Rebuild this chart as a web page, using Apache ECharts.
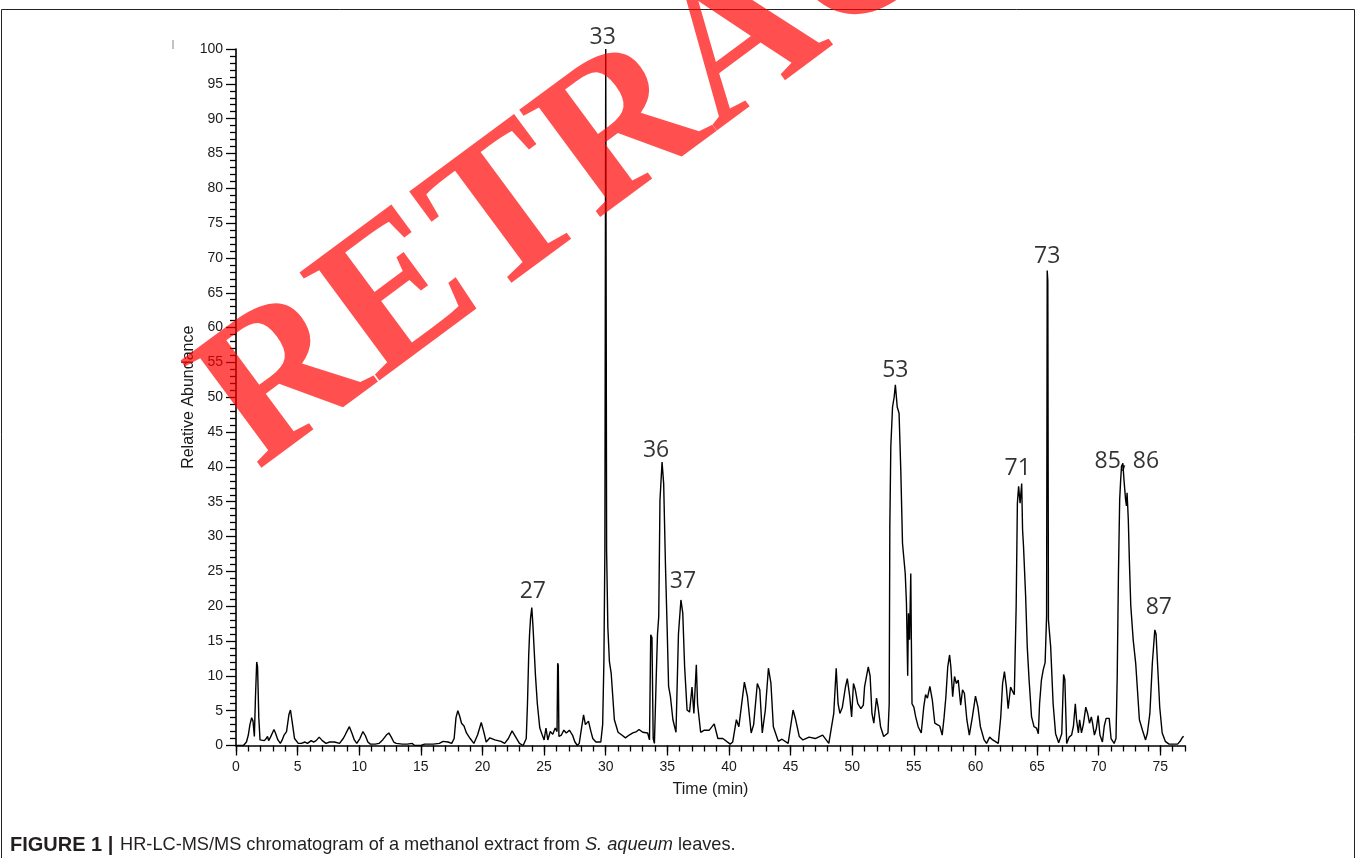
<!DOCTYPE html>
<html>
<head>
<meta charset="utf-8">
<title>HR-LC-MS/MS chromatogram</title>
<script src="https://cdn.jsdelivr.net/npm/echarts@6/dist/echarts.min.js"></script>
<style>
  html, body { margin: 0; padding: 0; background: #fff; }
  #chart { width: 1357px; height: 858px; }
</style>
</head>
<body>
<div id="chart"></div>
<script>
// Retention time (min) of each trace sample
const times = [
  0.0, 0.6, 0.85, 1.0, 1.13, 1.27, 1.38, 1.49, 1.58, 1.68, 1.75, 1.85, 1.95, 2.1, 2.3, 2.45, 2.56, 2.65, 2.8, 3.08,
  3.2, 3.4, 3.6, 3.75, 3.9, 4.1, 4.3, 4.42, 4.55, 4.75, 5.05, 5.3, 5.6, 5.8, 6.1, 6.3, 6.5, 6.75, 7.0, 7.3,
  7.6, 8.0, 8.4, 8.7, 8.85, 9.05, 9.2, 9.4, 9.6, 9.8, 10.05, 10.3, 10.5, 10.7, 10.9, 11.3, 11.6, 11.9, 12.2, 12.4,
  12.6, 12.8, 13.0, 13.5, 13.9, 14.3, 14.5, 15.0, 15.3, 16.0, 16.5, 16.8, 17.2, 17.5, 17.7, 17.85, 18.0, 18.15, 18.3, 18.5,
  18.7, 19.0, 19.3, 19.6, 19.9, 20.1, 20.3, 20.6, 21.0, 21.5, 21.8, 22.1, 22.4, 22.7, 23.0, 23.3, 23.55, 23.65, 23.75, 23.82,
  23.9, 24.0, 24.1, 24.3, 24.45, 24.65, 24.85, 25.0, 25.15, 25.3, 25.5, 25.7, 25.9, 26.05, 26.1, 26.15, 26.2, 26.4, 26.6, 26.8,
  27.05, 27.3, 27.5, 27.7, 27.85, 27.95, 28.2, 28.35, 28.6, 28.8, 28.95, 29.2, 29.6, 29.75, 29.85, 29.93, 30.0, 30.07, 30.17, 30.3,
  30.44, 30.7, 31.0, 31.3, 31.6, 31.9, 32.2, 32.5, 32.7, 33.0, 33.4, 33.55, 33.65, 33.75, 33.85, 33.95, 34.1, 34.2, 34.3, 34.4,
  34.57, 34.7, 34.85, 34.98, 35.1, 35.25, 35.45, 35.7, 35.9, 36.1, 36.25, 36.4, 36.6, 36.8, 37.0, 37.15, 37.35, 37.45, 37.7, 38.0,
  38.4, 38.8, 39.1, 39.5, 40.1, 40.3, 40.6, 40.8, 41.25, 41.5, 41.8, 42.0, 42.3, 42.5, 42.7, 42.95, 43.2, 43.4, 43.6, 44.0,
  44.3, 44.8, 45.2, 45.4, 45.7, 46.0, 46.5, 47.0, 47.6, 48.1, 48.5, 48.7, 48.85, 49.0, 49.2, 49.45, 49.6, 49.8, 49.95, 50.1,
  50.25, 50.45, 50.7, 50.9, 51.0, 51.3, 51.45, 51.6, 51.75, 51.97, 52.1, 52.3, 52.55, 52.9, 53.0, 53.05, 53.13, 53.27, 53.4, 53.5,
  53.65, 53.8, 53.94, 54.08, 54.3, 54.4, 54.5, 54.56, 54.65, 54.75, 54.8, 54.85, 55.0, 55.15, 55.35, 55.6, 55.8, 55.95, 56.1, 56.3,
  56.5, 56.7, 56.9, 57.1, 57.3, 57.45, 57.6, 57.75, 57.9, 58.0, 58.15, 58.3, 58.45, 58.6, 58.8, 58.95, 59.1, 59.3, 59.5, 59.75,
  60.0, 60.2, 60.4, 60.7, 60.9, 61.15, 61.4, 61.85, 62.05, 62.2, 62.35, 62.5, 62.65, 62.85, 63.0, 63.15, 63.3, 63.4, 63.5, 63.62,
  63.75, 63.82, 63.9, 64.07, 64.2, 64.35, 64.55, 64.75, 64.95, 65.1, 65.2, 65.35, 65.5, 65.65, 65.77, 65.82, 65.87, 65.92, 66.1, 66.3,
  66.5, 66.75, 67.0, 67.15, 67.25, 67.4, 67.6, 67.8, 67.95, 68.1, 68.2, 68.35, 68.45, 68.6, 68.75, 68.95, 69.1, 69.25, 69.4, 69.5,
  69.65, 69.8, 69.95, 70.1, 70.3, 70.45, 70.6, 70.85, 71.0, 71.25, 71.4, 71.5, 71.6, 71.7, 71.78, 71.85, 71.96, 72.05, 72.18, 72.25,
  72.3, 72.4, 72.5, 72.6, 72.8, 73.0, 73.3, 73.55, 73.8, 73.95, 74.15, 74.35, 74.5, 74.55, 74.65, 74.77, 74.95, 75.15, 75.4, 75.7,
  76.4, 76.6, 76.8, 76.9
];

// Relative abundance (%) at each retention time
const abundance = [
  0, 0, 0.5, 1.5, 3, 4.0, 3.5, 1.3, 7, 12.0, 11.3, 4, 0.8, 0.8, 0.7, 1.0, 1.3, 0.7, 1.2, 2.3,
  1.8, 0.8, 0.3, 0.8, 1.5, 2.0, 4.5, 5.1, 3.5, 1.0, 0.3, 0.3, 0.5, 0.3, 0.7, 0.5, 0.7, 1.2, 0.7, 0.3,
  0.5, 0.5, 0.3, 1.0, 1.5, 2.2, 2.7, 1.8, 0.8, 0.3, 1.0, 2.0, 1.4, 0.5, 0.2, 0.2, 0.3, 0.8, 1.5, 1.8,
  1.2, 0.5, 0.3, 0.2, 0.2, 0.3, 0.0, 0.0, 0.2, 0.2, 0.3, 0.6, 0.5, 0.3, 1.0, 4.0, 5.0, 4.2, 3.2, 2.8,
  1.8, 1.0, 0.3, 1.5, 3.3, 2.0, 0.5, 1.1, 0.8, 0.6, 0.3, 1.0, 2.1, 1.2, 0.3, 0.0, 1.0, 6, 13, 16,
  18.3, 19.8, 17, 10, 6, 2.5, 1.5, 0.8, 2.5, 0.8, 2.0, 1.6, 2.5, 2.0, 11.8, 11.5, 1.3, 1.5, 2.2, 1.8,
  2.2, 1.5, 0.5, 0.0, 0.3, 1.5, 4.4, 3.0, 3.5, 2.0, 1.0, 0.5, 0.5, 3, 12, 28, 100, 28, 17, 12,
  10.4, 3.7, 1.9, 1.5, 1.1, 1.5, 1.8, 2.0, 2.3, 1.9, 1.8, 0.8, 15.9, 15.5, 1.0, 0.3, 10, 16.0, 18.5, 35.2,
  40.7, 37.6, 25.6, 17, 8.5, 7.0, 3.7, 1.9, 16, 20.9, 19, 11.3, 5.1, 4.8, 8.4, 4.6, 11.6, 6.0, 1.9, 2.2,
  2.2, 3.1, 1.0, 1.0, 0.2, 0.5, 3.7, 2.7, 9.1, 7.0, 1.8, 3.0, 8.9, 8.0, 1.8, 5.1, 11.1, 9.0, 2.7, 0.6,
  0.9, 0.3, 5.1, 3.8, 1.3, 0.8, 1.2, 1.0, 1.5, 0.3, 4.6, 11.1, 6.0, 4.6, 5.5, 8.4, 9.6, 7.0, 4.1, 8.9,
  8.0, 6.0, 5.3, 5.8, 8.4, 11.3, 10, 4.6, 3.2, 6.8, 5.5, 2.7, 1.3, 1.8, 6, 31.4, 42.9, 48.6, 50, 51.8,
  48.6, 47.7, 39.5, 29, 24.7, 20.4, 10, 19, 15.2, 24.7, 14.7, 6, 5.5, 4.1, 2.7, 1.8, 5.5, 7.3, 6.8, 8.5,
  6.5, 3.2, 3.0, 2.8, 1.5, 4, 7, 11.3, 13, 11.3, 7, 9.9, 8.9, 9.4, 5.8, 8, 7.5, 3.7, 1.5, 4.1,
  7.1, 5.5, 2.7, 0.8, 0.3, 1.2, 0.8, 0.3, 4.1, 8.9, 10.6, 8.5, 5.3, 8.4, 7.8, 7.3, 19.9, 34.8, 37.2, 34.8,
  37.6, 31, 28.5, 21.4, 14.2, 9.4, 4.1, 2.7, 2.5, 1.7, 6, 9.4, 10.9, 11.9, 18.6, 68.2, 66.7, 18, 14.2, 6,
  1.7, 0.4, 1.7, 10.2, 9.5, 0.3, 1.2, 1.5, 2.8, 6, 3.7, 1.8, 3.7, 1.8, 3.0, 5.5, 4.6, 3.2, 4.1, 3.2,
  1.5, 2.4, 4.3, 1.5, 0.5, 2.8, 3.9, 3.9, 1.0, 0.3, 1.0, 9.9, 24.7, 35.3, 38.1, 40.1, 40.5, 38.1, 35.3, 34.4,
  36.3, 32.4, 25.7, 20.1, 15.1, 11.8, 3.7, 2.2, 0.8, 1.8, 4.6, 11.8, 15.4, 16.6, 16.0, 11.8, 5.5, 1.8, 0.6, 0.2,
  0.2, 0.6, 1.2, 1.3
];

// Annotated compound peaks: label text and approximate retention time
const peakNames = ['27', '33', '36', '37', '53', '71', '73', '85, 86', '87'];
const peakTimes = [24.0, 30.0, 34.57, 36.1, 53.5, 63.75, 65.82, 71.96, 74.55];

// Axis ticks
const xMajorTicks = [0, 5, 10, 15, 20, 25, 30, 35, 40, 45, 50, 55, 60, 65, 70, 75];

const traceData = times.map((t, i) => [t, abundance[i]]);

// anchor each peak label on the highest trace point near its retention time
const peakData = peakNames.map((name, i) => {
  let best = null;
  traceData.forEach(p => {
    if (Math.abs(p[0] - peakTimes[i]) <= 0.3 && (!best || p[1] > best[1])) best = p;
  });
  return { name: name, value: best };
});

// per-label nudges (px) relative to the peak apex
const labelNudge = {
  '27': [1, -16], '33': [-3, -12], '36': [-6, -12], '37': [2, -18], '53': [0, -14],
  '71': [-4, -15], '73': [0, -14], '85, 86': [4, -2], '87': [4, -22]
};

const axisFont = '"Liberation Sans", Arial, sans-serif';
const chart = echarts.init(document.getElementById('chart'), null, { renderer: 'canvas' });

chart.setOption({
  animation: false,
  backgroundColor: '#ffffff',
  grid: { left: 236, right: 172, top: 49, bottom: 112.5, containLabel: false },
  xAxis: [
    {
      type: 'value', min: 0, max: 77, interval: 5,
      name: 'Time (min)', nameLocation: 'middle', nameGap: 36, nameMoveOverlap: false,
      nameTextStyle: { fontFamily: axisFont, fontSize: 16, color: '#1a1a1a' },
      axisLine: { show: true, onZero: false, lineStyle: { color: '#000', width: 1.6 } },
      axisTick: { show: true, length: 10, customValues: xMajorTicks, lineStyle: { color: '#000', width: 1.3 } },
      axisLabel: { show: true, margin: 15, customValues: xMajorTicks, fontFamily: axisFont, fontSize: 14, color: '#1a1a1a' },
      splitLine: { show: false }
    },
    {
      type: 'value', min: 0, max: 77, interval: 1, position: 'bottom', offset: 0,
      axisLine: { show: false, onZero: false },
      axisTick: { show: true, length: 6, lineStyle: { color: '#000', width: 1.3 } },
      axisLabel: { show: false },
      splitLine: { show: false }
    }
  ],
  yAxis: {
    type: 'value', min: 0, max: 100, interval: 5,
    name: 'Relative Abundance', nameLocation: 'middle', nameGap: 39, nameRotate: 90, nameMoveOverlap: false,
    nameTextStyle: { fontFamily: axisFont, fontSize: 16, color: '#1a1a1a' },
    axisLine: { show: true, lineStyle: { color: '#000', width: 1.6 } },
    axisTick: { show: true, length: 10, lineStyle: { color: '#000', width: 1.3 } },
    minorTick: { show: true, splitNumber: 5, length: 6, lineStyle: { color: '#000', width: 1.3 } },
    axisLabel: { margin: 13, fontFamily: axisFont, fontSize: 14, color: '#1a1a1a' },
    splitLine: { show: false }
  },
  series: [
    {
      name: 'TIC', type: 'line', xAxisIndex: 0, data: traceData,
      showSymbol: false, symbol: 'none', smooth: false,
      lineStyle: { color: '#000', width: 1.4 },
      z: 3
    },
    {
      name: 'peaks', type: 'scatter', xAxisIndex: 0, data: peakData,
      symbolSize: 1, itemStyle: { color: 'rgba(0,0,0,0)' },
      label: {
        show: true, position: 'inside',
        formatter: p => p.name,
        fontFamily: '"Open Sans", "Noto Sans", sans-serif', fontSize: 23, color: '#000'
      },
      labelLayout: p => {
        const n = labelNudge[peakNames[p.dataIndex]] || [0, -14];
        return { dx: n[0], dy: n[1] };
      },
      z: 4
    }
  ],
  graphic: [
    // figure frame
    {
      type: 'rect', z: 1, silent: true,
      shape: { x: 1.5, y: 9.5, width: 1353, height: 870 },
      style: { fill: 'none', stroke: '#222', lineWidth: 1 }
    },
    // small instrument mark by the axis top
    {
      type: 'rect', z: 1, silent: true,
      shape: { x: 172.5, y: 40, width: 1, height: 9 },
      style: { fill: '#888' }
    },
    // caption
    {
      type: 'text', z: 5, silent: true, x: 10, y: 845,
      style: {
        text: '{b|FIGURE 1 |}  {r|HR-LC-MS/MS chromatogram of a methanol extract from }{i|S. aqueum}{r| leaves.}',
        verticalAlign: 'middle', textVerticalAlign: 'middle',
        rich: {
          b: { fontFamily: axisFont, fontWeight: 'bold', fontSize: 20, fill: '#231f20', color: '#231f20' },
          r: { fontFamily: axisFont, fontSize: 18.2, fill: '#231f20', color: '#231f20' },
          i: { fontFamily: axisFont, fontStyle: 'italic', fontSize: 18.2, fill: '#231f20', color: '#231f20' }
        }
      }
    },
    // retraction stamp
    {
      type: 'text', z: 10, silent: true,
      x: 226, y: 428, rotation: 36.5 * Math.PI / 180,
      style: {
        text: 'RETRACTED',
        x: 0, y: 0,
        font: 'bold 205px "Liberation Serif", "Times New Roman", serif',
        fill: 'rgba(255,0,0,0.69)',
        align: 'left', textAlign: 'left',
        verticalAlign: 'middle', textVerticalAlign: 'middle'
      }
    }
  ]
});
</script>
</body>
</html>
